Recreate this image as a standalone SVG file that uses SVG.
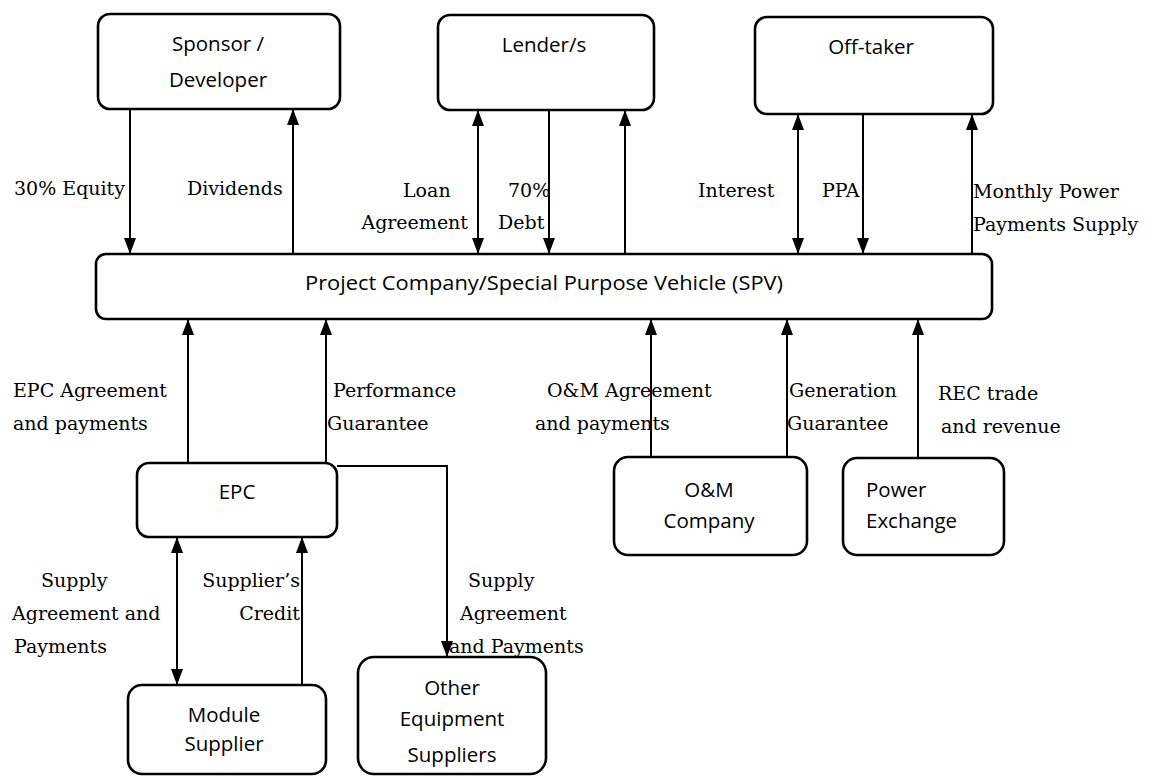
<svg xmlns="http://www.w3.org/2000/svg" width="1157" height="776" viewBox="0 0 1157 776">
<style>
.box{fill:#fff;stroke:#000;stroke-width:2.6}
.bt{font-family:"Open Sans","Liberation Sans",sans-serif;font-size:20.5px;fill:#000}
.lb{font-family:"DejaVu Serif","Liberation Serif",serif;font-size:19px;fill:#000}
.c{stroke:#000;stroke-width:2;fill:none}
</style>
<defs>
<marker id="ah" viewBox="0 0 16 12" refX="16" refY="6" markerWidth="16" markerHeight="12" markerUnits="userSpaceOnUse" orient="auto-start-reverse">
<path d="M0,0 L16,6 L0,12 z" fill="#000"/>
</marker>
</defs>
<rect width="1157" height="776" fill="#fff"/>

<g id="connectors">
<path class="c" d="M130,109 L130,254" marker-end="url(#ah)"/>
<path class="c" d="M293,254 L293,109" marker-end="url(#ah)"/>
<path class="c" d="M478,110 L478,254" marker-start="url(#ah)" marker-end="url(#ah)"/>
<path class="c" d="M549,110 L549,254" marker-end="url(#ah)"/>
<path class="c" d="M625,254 L625,110" marker-end="url(#ah)"/>
<path class="c" d="M798,114 L798,254" marker-start="url(#ah)" marker-end="url(#ah)"/>
<path class="c" d="M863,114 L863,254" marker-end="url(#ah)"/>
<path class="c" d="M972,254 L972,114" marker-end="url(#ah)"/>
<path class="c" d="M188,463 L188,319" marker-end="url(#ah)"/>
<path class="c" d="M326,463 L326,319" marker-end="url(#ah)"/>
<path class="c" d="M651,457 L651,319" marker-end="url(#ah)"/>
<path class="c" d="M787,457 L787,319" marker-end="url(#ah)"/>
<path class="c" d="M918,458 L918,319" marker-end="url(#ah)"/>
<path class="c" d="M177,537 L177,685" marker-start="url(#ah)" marker-end="url(#ah)"/>
<path class="c" d="M302,685 L302,537" marker-end="url(#ah)"/>
<path class="c" d="M337,466 L447,466 L447,657" marker-end="url(#ah)"/>
</g>

<g id="labels">
<text class="lb" x="14" y="195">30% Equity</text>
<text class="lb" x="187" y="195">Dividends</text>
<text class="lb" x="403" y="197">Loan</text>
<text class="lb" x="468" y="229" text-anchor="end">Agreement</text>
<text class="lb" x="508" y="197">70%</text>
<text class="lb" x="498" y="229">Debt</text>
<text class="lb" x="698" y="197">Interest</text>
<text class="lb" x="822" y="197">PPA</text>
<text class="lb" x="973" y="198">Monthly Power</text>
<text class="lb" x="973" y="231">Payments Supply</text>
<text class="lb" x="13" y="397">EPC Agreement</text>
<text class="lb" x="13" y="430">and payments</text>
<text class="lb" x="333" y="397">Performance</text>
<text class="lb" x="327" y="430">Guarantee</text>
<text class="lb" x="547" y="397">O&amp;M Agreement</text>
<text class="lb" x="535" y="430">and payments</text>
<text class="lb" x="789" y="397">Generation</text>
<text class="lb" x="787" y="430">Guarantee</text>
<text class="lb" x="938" y="400">REC trade</text>
<text class="lb" x="941" y="433">and revenue</text>
<text class="lb" x="41" y="587">Supply</text>
<text class="lb" x="12" y="620">Agreement and</text>
<text class="lb" x="14" y="653">Payments</text>
<text class="lb" x="300" y="587" text-anchor="end">Supplier’s</text>
<text class="lb" x="300" y="620" text-anchor="end">Credit</text>
<text class="lb" x="468" y="587">Supply</text>
<text class="lb" x="460" y="620">Agreement</text>
<text class="lb" x="449" y="653">and Payments</text>
</g>

<g id="sponsor">
<rect class="box" x="98" y="14" width="242" height="95" rx="12"/>
<text class="bt" x="218" y="51" text-anchor="middle">Sponsor /</text>
<text class="bt" x="218" y="87" text-anchor="middle">Developer</text>
</g>
<g id="lender">
<rect class="box" x="438" y="15" width="216" height="95" rx="12"/>
<text class="bt" x="544" y="52" text-anchor="middle">Lender/s</text>
</g>
<g id="offtaker">
<rect class="box" x="755" y="17" width="238" height="97" rx="12"/>
<text class="bt" x="871" y="54" text-anchor="middle">Off-taker</text>
</g>
<g id="spv">
<rect class="box" x="96" y="254" width="896" height="65" rx="10"/>
<text class="bt" x="544" y="290" text-anchor="middle" textLength="478" lengthAdjust="spacingAndGlyphs">Project Company/Special Purpose Vehicle (SPV)</text>
</g>
<g id="epc">
<rect class="box" x="137" y="463" width="200" height="74" rx="12"/>
<text class="bt" x="237" y="499" text-anchor="middle">EPC</text>
</g>
<g id="om">
<rect class="box" x="614" y="457" width="193" height="98" rx="14"/>
<text class="bt" x="709" y="497" text-anchor="middle">O&amp;M</text>
<text class="bt" x="709" y="528" text-anchor="middle">Company</text>
</g>
<g id="powerexchange">
<rect class="box" x="843" y="458" width="161" height="97" rx="14"/>
<text class="bt" x="866" y="497">Power</text>
<text class="bt" x="866" y="528">Exchange</text>
</g>
<g id="module">
<rect class="box" x="128" y="685" width="198" height="89" rx="14"/>
<text class="bt" x="224" y="722" text-anchor="middle">Module</text>
<text class="bt" x="224" y="751" text-anchor="middle">Supplier</text>
</g>
<g id="other">
<rect class="box" x="358" y="657" width="188" height="117" rx="16"/>
<text class="bt" x="452" y="695" text-anchor="middle">Other</text>
<text class="bt" x="452" y="726" text-anchor="middle">Equipment</text>
<text class="bt" x="452" y="762" text-anchor="middle">Suppliers</text>
</g>
</svg>
